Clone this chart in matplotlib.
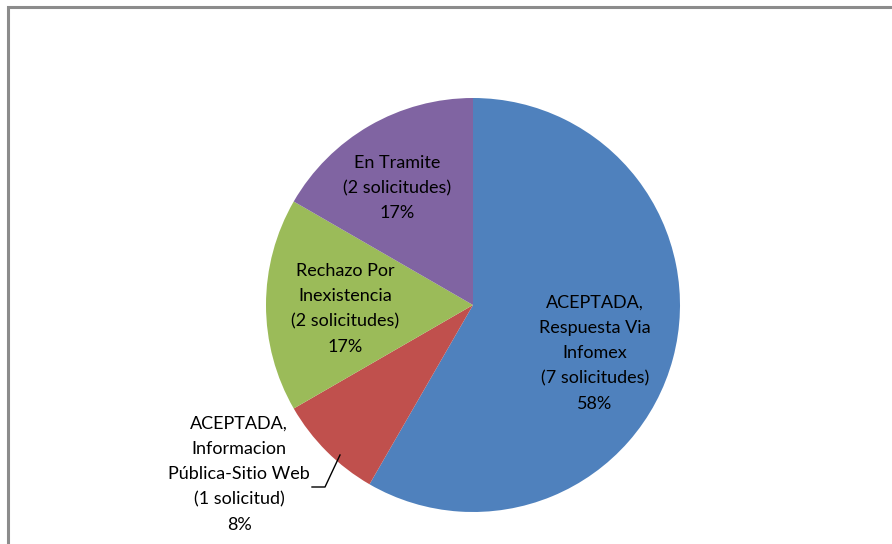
import matplotlib.pyplot as plt
from matplotlib.patches import Rectangle

# datos de las solicitudes
etiquetas = ['ACEPTADA,\nRespuesta Via\nInfomex',
             'ACEPTADA,\nInformacion\nPública-Sitio Web',
             'Rechazo Por\nInexistencia',
             'En Tramite']
solicitudes = [7, 1, 2, 2]
textos_sol = ['(7 solicitudes)', '(1 solicitud)', '(2 solicitudes)', '(2 solicitudes)']
colores = ['#4f81bd', '#c0504d', '#9bbb59', '#8064a2']

W, H = 892, 544
fig = plt.figure(figsize=(W / 100, H / 100), dpi=100)
plt.rcParams['font.family'] = ['Lato', 'DejaVu Sans']

# marco gris del area del grafico
fig.patches.append(Rectangle((8 / W, -0.2), 1.2, 1 - 7 / H + 0.2, transform=fig.transFigure,
                             fill=False, edgecolor='#8c8c8c', linewidth=2.2))

# pastel: centro (473, 305) px, radio 207 px
cx, cy, r = 473, 305, 207
ax = fig.add_axes([(cx - r) / W, (H - cy - r) / H, 2 * r / W, 2 * r / H])
ax.pie(solicitudes, colors=colores, startangle=90, counterclock=False,
       wedgeprops=dict(edgecolor='none'))
ax.set_xlim(-1, 1)
ax.set_ylim(-1, 1)
ax.axis('off')

total = sum(solicitudes)
# posiciones de los textos en pixeles (centro del bloque)
pos = [(595, 353), (239, 474), (345, 309), (397, 188)]
for i in range(len(solicitudes)):
    pct = round(100 * solicitudes[i] / total)
    txt = f"{etiquetas[i]}\n{textos_sol[i]}\n{pct}%"
    fig.text(pos[i][0] / W, 1 - pos[i][1] / H, txt, ha='center', va='center',
             fontsize=13, linespacing=1.72, color='black')

# linea guia de la rebanada pequeña
fig.add_artist(plt.Line2D([312 / W, 325 / W, 340 / W],
                          [1 - 487 / H, 1 - 487 / H, 1 - 455 / H],
                          color='black', linewidth=1))

fig.savefig('out.png', dpi=100)
